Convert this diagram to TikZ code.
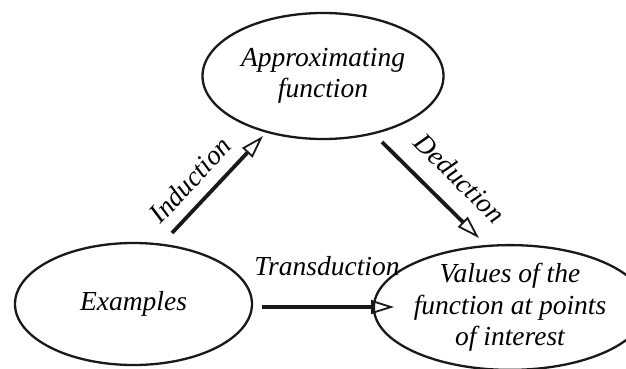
\documentclass[tikz,border=0pt]{standalone}
\usepackage{fontspec}
\setmainfont{Liberation Serif}
\usetikzlibrary{shapes.geometric,arrows.meta}
\begin{document}
\begin{tikzpicture}[x=1pt,y=-1pt,
  ell/.style={draw=black!90,line width=2.3pt,ellipse,inner sep=0pt,align=center,
    font=\fontsize{27.5}{31.5}\selectfont\itshape},
  lbl/.style={font=\fontsize{27.5}{31}\selectfont\itshape,inner sep=0pt},
  arr/.style={draw=black!90,line width=3.8pt,
    -{Triangle[open,length=23pt,width=14pt,line width=1.8pt]}}]
\useasboundingbox[fill=white] (0,0) rectangle (626,369);
\node[ell,minimum width=241pt,minimum height=126pt] (top) at (323,76) {Approximating\\function};
\node[ell,minimum width=237pt,minimum height=122pt] (ex) at (133.5,304) {Examples};
\node[ell,minimum width=230pt,minimum height=121pt] (val) at (510,307.5) {Values of the\\function at points\\of interest};
\coordinate (i1) at (172,233);
\coordinate (i2) at (263,136);
\coordinate (d1) at (382,142);
\coordinate (d2) at (479,238);
\coordinate (t1) at (262,307);
\coordinate (t2) at (394,307);
\draw[arr] (i1) -- (i2);
\draw[arr] (d1) -- (d2);
\draw[arr] (t1) -- (t2);
\node[lbl,rotate=47] (li) at (190,180) {Induction};
\node[lbl,rotate=-45] (ld) at (460,178) {Deduction};
\node[lbl] (lt) at (327,266) {Transduction};
\end{tikzpicture}
\end{document}
